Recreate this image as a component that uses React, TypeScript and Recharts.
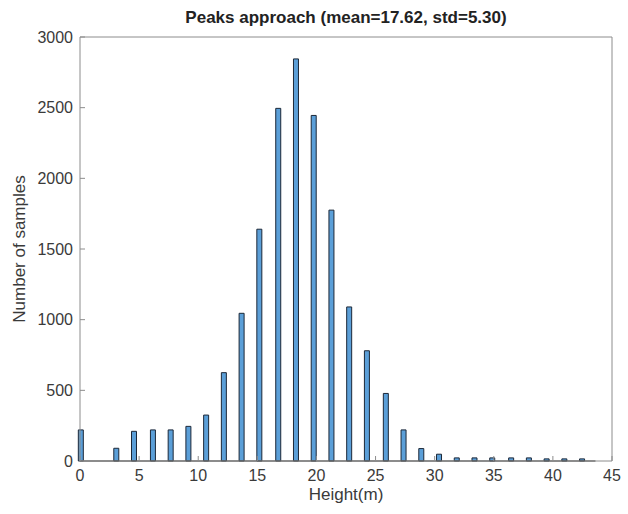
import { BarChart, Bar, XAxis, YAxis, ReferenceLine } from 'recharts';

// histogram bins (centre of each bin, in metres) and counts
const binCenters = [
  0.1, 1.6, 3.1, 4.6, 6.2, 7.7, 9.2, 10.7, 12.2, 13.7, 15.2, 16.8, 18.3, 19.8, 21.3,
  22.8, 24.3, 25.9, 27.4, 28.9, 30.4, 31.9, 33.4, 34.9, 36.5, 38.0, 39.5, 41.0, 42.5,
];
const sampleCounts = [
  220, 0, 90, 210, 220, 220, 245, 325, 625, 1045, 1640, 2495, 2845, 2445, 1775,
  1090, 780, 478, 220, 88, 48, 22, 22, 22, 22, 22, 15, 15, 15,
];
const xTicks = [0, 5, 10, 15, 20, 25, 30, 35, 40, 45];
const yTicks = [0, 500, 1000, 1500, 2000, 2500, 3000];

const data = binCenters.map((x, i) => ({ x, count: sampleCounts[i] }));

const FONT = '"Liberation Sans", Arial, Helvetica, sans-serif';
const AXIS = '#8c8c8c';
const TEXT = '#3a3a3a';

export default function App() {
  return (
    <div
      style={{
        position: 'absolute', left: 0, top: 0, width: 628, height: 514,
        background: '#fff', fontFamily: FONT,
      }}
    >
      <BarChart
        width={628}
        height={514}
        data={data}
        margin={{ top: 36, right: 15, bottom: 23, left: 20 }}
        barSize={5}
      >
        <XAxis
          xAxisId="b"
          dataKey="x"
          type="number"
          domain={[0, 45]}
          ticks={xTicks}
          interval={0}
          height={30}
          stroke={AXIS}
          tickSize={-5}
          tickMargin={14}
          tick={{ fill: TEXT, fontSize: 16 }}
        />
        <XAxis
          xAxisId="t"
          orientation="top"
          type="number"
          domain={[0, 45]}
          ticks={xTicks}
          interval={0}
          height={1}
          stroke={AXIS}
          tickSize={-5}
          tick={false}
        />
        <YAxis
          yAxisId="l"
          domain={[0, 3000]}
          ticks={yTicks}
          interval={0}
          width={60}
          stroke={AXIS}
          tickSize={-5}
          tickMargin={12}
          tick={{ fill: TEXT, fontSize: 16 }}
        />
        <YAxis
          yAxisId="r"
          orientation="right"
          domain={[0, 3000]}
          ticks={yTicks}
          interval={0}
          width={1}
          stroke={AXIS}
          tickSize={-5}
          tick={false}
        />
        <ReferenceLine
          xAxisId="b"
          yAxisId="l"
          segment={[{ x: 0, y: 0 }, { x: 43.6, y: 0 }]}
          stroke="#1a1a1a"
          strokeWidth={1.2}
        />
        <Bar
          xAxisId="b"
          yAxisId="l"
          dataKey="count"
          fill="#5b9fd8"
          stroke="#1c2838"
          strokeWidth={1}
          isAnimationActive={false}
        />
      </BarChart>
      <div
        style={{
          position: 'absolute', left: 0, width: 692, top: 8, textAlign: 'center',
          fontWeight: 'bold', fontSize: 17, lineHeight: '20px', color: '#222',
        }}
      >
        Peaks approach (mean=17.62, std=5.30)
      </div>
      <div
        style={{
          position: 'absolute', left: 0, width: 692, top: 486, textAlign: 'center',
          fontSize: 17, lineHeight: '17px', color: TEXT,
        }}
      >
        Height(m)
      </div>
      <div
        style={{
          position: 'absolute', left: 20, top: 249, width: 0, height: 0,
        }}
      >
        <div
          style={{
            position: 'absolute', left: -100, top: -9, width: 200, textAlign: 'center',
            fontSize: 17, lineHeight: '18px', color: TEXT, transform: 'rotate(-90deg)',
            whiteSpace: 'nowrap',
          }}
        >
          Number of samples
        </div>
      </div>
    </div>
  );
}
